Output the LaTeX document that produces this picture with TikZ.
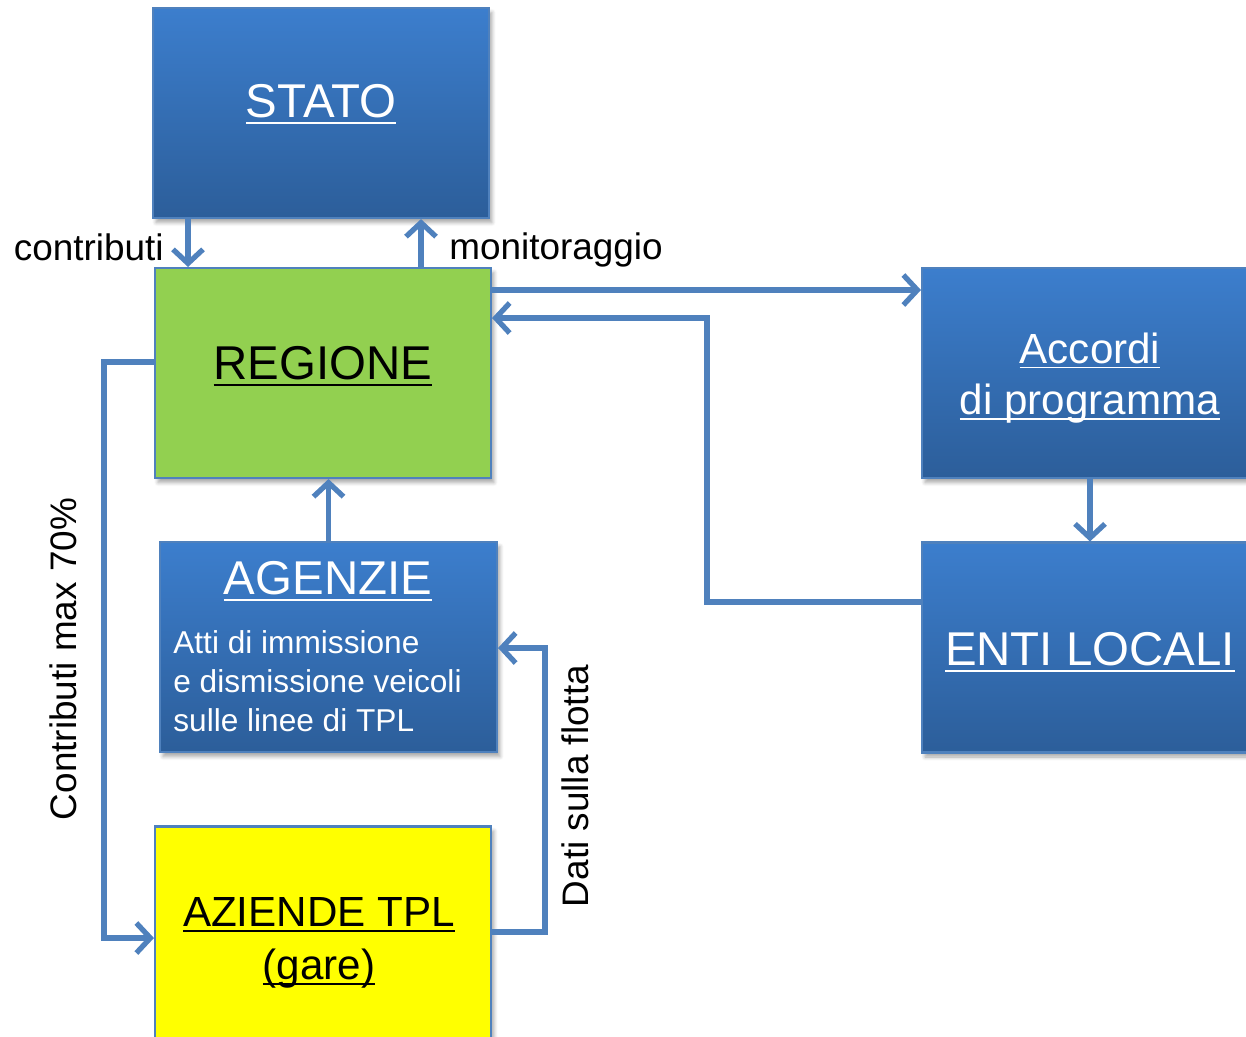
\documentclass[tikz,border=0pt]{standalone}
\usepackage{fontspec}
\setmainfont{Liberation Sans}
\usepackage{xcolor}
\usetikzlibrary{arrows.meta,shadows.blur}
\newcommand{\uln}[1]{\leavevmode\setbox0=\hbox{#1}\rlap{\rule[-0.13em]{\wd0}{0.045em}}\box0}
\definecolor{boxtop}{RGB}{60,126,205}
\definecolor{boxmid}{RGB}{54,114,186}
\definecolor{boxbot}{RGB}{44,94,154}
\definecolor{boxedge}{RGB}{79,129,189}
\definecolor{flowblue}{RGB}{79,129,189}
\definecolor{regiongreen}{RGB}{146,208,80}
\definecolor{aziendeyellow}{RGB}{255,255,0}
\tikzset{
	basebox/.style={
			draw=boxedge, line width=1.2pt, inner sep=0pt,
			minimum width=6.72cm, minimum height=4.2cm,
			blur shadow={shadow xshift=0.6mm, shadow yshift=-0.9mm, shadow blur steps=6, shadow opacity=35}
		},
	bluebox/.style={basebox, top color=boxtop, middle color=boxmid, bottom color=boxbot},
	flatbox/.style={basebox, fill=#1},
	flow/.style={
			draw=flowblue, line width=3pt, line join=miter,
			-{Straight Barb[length=2.8mm, width=6mm]}
		},
	lbl/.style={inner sep=0pt, font=\fontsize{21}{25}\selectfont}
}

\begin{document}
\begin{tikzpicture}[x=0.02cm, y=-0.02cm]
		\useasboundingbox (0,0) rectangle (1246,1036);
		\clip (0,0) rectangle (1246,1036);

		% Draw the boxes
		\node[bluebox] (stato) at (321,113) {};
		\node[flatbox=regiongreen] (regione) at (323,373) {};
		\node[bluebox, minimum width=6.74cm] (agenzie) at (328.5,647) {};
		\node[flatbox=aziendeyellow, minimum height=4.5cm] (aziende) at (323,939) {};
		\node[bluebox] (accordi) at (1090,373) {};
		\node[bluebox] (enti) at (1090,647.5) {};

		% Texts inside the boxes
		\node[white, font=\fontsize{27}{32}\selectfont] (statotxt) at (321,104) {\uln{STATO}};
		\node[font=\fontsize{27}{32}\selectfont] (regionetxt) at (323,366) {\uln{REGIONE}};
		\node[white, font=\fontsize{27}{32}\selectfont] (agenzietxt) at (328,581) {\uln{AGENZIE}};
		\node[white, anchor=west, align=left, inner sep=0pt, font=\fontsize{18}{22.1}\selectfont] (agenziebody) at (173,681)
			{Atti di immissione\\e dismissione veicoli\\sulle linee di TPL};
		\node[align=center, font=\fontsize{24}{30}\selectfont] (aziendetxt) at (319,943) {\uln{AZIENDE TPL}\\\uln{(gare)}};
		\node[white, align=center, font=\fontsize{24}{29.5}\selectfont] (accorditxt) at (1090,378) {\uln{Accordi}\\\uln{di programma}};
		\node[white, font=\fontsize{27}{32}\selectfont] (entitxt) at (1090,652) {\uln{ENTI LOCALI}};

		% Bends of the connectors
		\coordinate (xc) at (188,0);
		\coordinate (xm) at (421,0);
		\coordinate (ya) at (0,290);
		\coordinate (ret) at (707,602);
		\coordinate (retb) at (707,318);
		\coordinate (lft) at (104,362);
		\coordinate (lftb) at (104,938);
		\coordinate (rgt) at (545,932);
		\coordinate (rgtt) at (545,648);

		% Draw the connectors
		\draw[flow] (xc |- stato.south) -- (xc |- regione.north);
		\draw[flow] (xm |- regione.north) -- (xm |- stato.south);
		\draw[flow] (regione.east |- ya) -- (accordi.west |- ya);
		\draw[flow] (enti.west |- ret) -- (ret) -- (retb) -- (regione.east |- retb);
		\draw[flow] (accordi.south) -- (enti.north);
		\draw[flow] (agenzie.north) -- (agenzie.north |- regione.south);
		\draw[flow] (regione.west |- lft) -- (lft) -- (lftb) -- (aziende.west |- lftb);
		\draw[flow] (aziende.east |- rgt) -- (rgt) -- (rgtt) -- (agenzie.east |- rgtt);

		% Labels of the connectors
		\node[lbl, anchor=east] (contrib) at (164,247) {contributi};
		\node[lbl, anchor=west] (monit) at (449,250) {monitoraggio};
		\node[lbl, rotate=90] (maxcontrib) at (63,659) {Contributi max 70\%};
		\node[lbl, rotate=90] (flotta) at (575,786) {Dati sulla flotta};
	\end{tikzpicture}
\end{document}
